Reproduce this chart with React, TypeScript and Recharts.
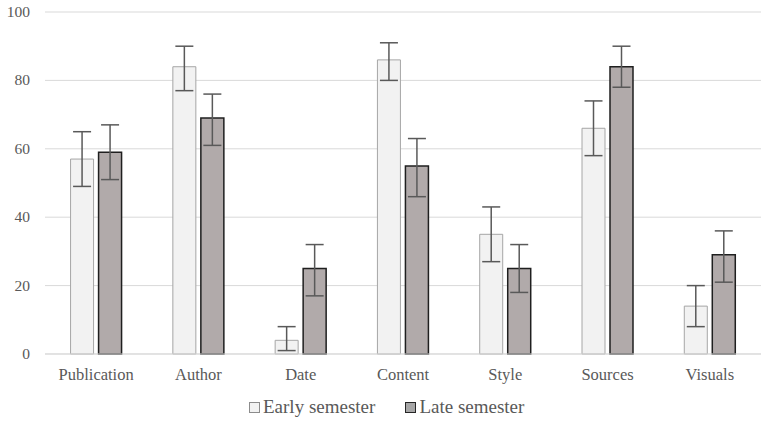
import { BarChart, Bar, XAxis, YAxis, CartesianGrid, ErrorBar } from 'recharts';

const categories = ['Publication', 'Author', 'Date', 'Content', 'Style', 'Sources', 'Visuals'];
const earlyValues = [57, 84, 4, 86, 35, 66, 14];
const lateValues = [59, 69, 25, 55, 25, 84, 29];
// [below, above] error amounts
const earlyErrors = [[8, 8], [7, 6], [3, 4], [6, 5], [8, 8], [8, 8], [6, 6]];
const lateErrors = [[8, 8], [8, 7], [8, 7], [9, 8], [7, 7], [6, 6], [8, 7]];
const yTicks = [0, 20, 40, 60, 80, 100];
const seriesNames = ['Early semester', 'Late semester'];

const data = categories.map((name, i) => ({
  name,
  early: earlyValues[i],
  late: lateValues[i],
  earlyErr: earlyErrors[i],
  lateErr: lateErrors[i],
}));

const font = 'Liberation Serif';
const textColor = '#595959';

const legendItems = [
  { label: seriesNames[0], fill: '#f2f2f2', stroke: '#8c8c8c' },
  { label: seriesNames[1], fill: '#a6a6a6', stroke: '#262626' },
];

const XTick = (props: any) => {
  const { x, y, payload } = props;
  return (
    <text x={x} y={y + 22} textAnchor="middle" fill={textColor} fontSize={16.5} fontFamily={font}>
      {payload.value}
    </text>
  );
};

const YTick = (props: any) => {
  const { x, y, payload } = props;
  return (
    <text x={x} y={y + 5} textAnchor="end" fill={textColor} fontSize={15.5} fontFamily={font}>
      {payload.value}
    </text>
  );
};

export default function App() {
  return (
    <div style={{ position: 'absolute', left: 0, top: 0, width: 767, height: 424, background: '#fff', fontFamily: font }}>
      <BarChart
        width={767}
        height={424}
        data={data}
        margin={{ top: 12, right: 6, left: 0, bottom: 40 }}
        barCategoryGap="25%"
        barGap={5}
      >
        <CartesianGrid vertical={false} stroke="#d9d9d9" />
        <XAxis
          dataKey="name"
          height={30}
          tickLine={false}
          tickSize={0}
          tickMargin={4}
          axisLine={{ stroke: '#d9d9d9' }}
          tick={<XTick />}
        />
        <YAxis
          width={45}
          domain={[0, 100]}
          ticks={yTicks}
          axisLine={false}
          tickLine={false}
          tickSize={0}
          tickMargin={15}
          tick={<YTick />}
        />
        <Bar dataKey="early" name={seriesNames[0]} fill="#f2f2f2" stroke="#a6a6a6" strokeWidth={1} isAnimationActive={false}>
          <ErrorBar dataKey="earlyErr" width={9} stroke="#595959" strokeWidth={1.5} direction="y" />
        </Bar>
        <Bar dataKey="late" name={seriesNames[1]} fill="#b1aaaa" stroke="#1f1f1f" strokeWidth={1.5} isAnimationActive={false}>
          <ErrorBar dataKey="lateErr" width={9} stroke="#595959" strokeWidth={1.5} direction="y" />
        </Bar>
      </BarChart>
      <div
        style={{
          position: 'absolute',
          left: 249,
          top: 396,
          display: 'flex',
          alignItems: 'center',
          color: textColor,
          fontSize: 19,
          whiteSpace: 'nowrap',
        }}
      >
        {legendItems.map((item, i) => (
          <div key={item.label} style={{ display: 'flex', alignItems: 'center', marginRight: i === 0 ? 30 : 0 }}>
            <span
              style={{
                display: 'inline-block',
                width: 9,
                height: 9,
                background: item.fill,
                border: `1px solid ${item.stroke}`,
                marginRight: 3,
              }}
            />
            <span>{item.label}</span>
          </div>
        ))}
      </div>
    </div>
  );
}
